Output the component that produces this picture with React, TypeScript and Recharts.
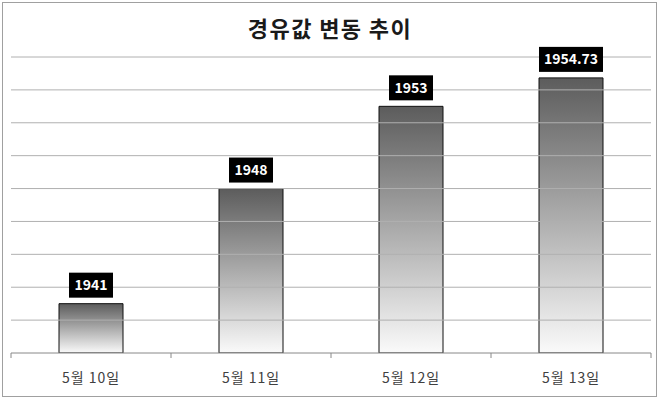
import React from 'react';
import { BarChart, Bar, XAxis, YAxis, ReferenceLine, LabelList } from 'recharts';

const categories = ['5월 10일', '5월 11일', '5월 12일', '5월 13일'];
const prices = [1941, 1948, 1953, 1954.73];
const yTicks = [1938, 1940, 1942, 1944, 1946, 1948, 1950, 1952, 1954, 1956];
const title = '경유값 변동 추이';

const data = categories.map((c, i) => ({ name: c, value: prices[i] }));

const FONT = '"Noto Sans CJK KR", "Noto Sans", sans-serif';
const BAND = 160;

const CategoryTick = (props: any) => {
  const { x, y, payload, index } = props;
  return (
    <g>
      <line x1={x - BAND / 2} y1={y} x2={x - BAND / 2} y2={y + 5} stroke="#888" strokeWidth={1} />
      {index === categories.length - 1 && (
        <line x1={x + BAND / 2} y1={y} x2={x + BAND / 2} y2={y + 5} stroke="#888" strokeWidth={1} />
      )}
      <text x={x} y={y + 30} textAnchor="middle" fill="#404040" fontSize={14} letterSpacing={1} fontFamily={FONT}>
        {payload.value}
      </text>
    </g>
  );
};

const ValueLabel = (props: any) => {
  const { x, y, width, value } = props;
  const s = String(value);
  let tw = 0;
  for (const ch of s) tw += ch === '.' ? 4 : 8;
  const w = tw + 12;
  const h = 25;
  const cx = x + width / 2;
  const top = y - 6 - h;
  return (
    <g>
      <rect x={cx - w / 2} y={top} width={w} height={h} fill="#000" />
      <text x={cx} y={top + h / 2 + 5} textAnchor="middle" fill="#fff" fontSize={14} fontWeight="bold" fontFamily={FONT}>
        {s}
      </text>
    </g>
  );
};

export default function App() {
  return (
    <div style={{ position: 'absolute', left: 0, top: 0, width: 660, height: 400, background: '#fff' }}>
      <div style={{ position: 'absolute', left: 2, top: 2, width: 653, height: 393, border: '1px solid #a0a0a0' }} />
      <div style={{ position: 'absolute', left: 0, top: 11, width: 660, textAlign: 'center', fontFamily: FONT, fontSize: 22, letterSpacing: 1.4, fontWeight: 'bold', color: '#1a1a1a' }}>
        {title}
      </div>
      <div style={{ position: 'absolute', left: 0, top: 0 }}>
        <BarChart width={660} height={400} data={data} margin={{ top: 57, right: 9, bottom: 0, left: 11 }}>
          <defs>
            <linearGradient id="barGrad" x1="0" y1="0" x2="0" y2="1">
              <stop offset="0%" stopColor="#5c5c5c" />
              <stop offset="100%" stopColor="#fafafa" />
            </linearGradient>
          </defs>
          <YAxis domain={[1938, 1956]} ticks={yTicks} width={0} tick={false} axisLine={false} tickLine={false} allowDataOverflow />
          {yTicks.slice(1).map((t) => (
            <ReferenceLine key={t} y={t} stroke="#b0b0b0" strokeWidth={1} />
          ))}
          <XAxis dataKey="name" height={47} axisLine={{ stroke: '#888', strokeWidth: 1 }} tickLine={false} tickSize={0} tickMargin={0} tick={<CategoryTick />} interval={0} />
          <Bar dataKey="value" barSize={64} fill="url(#barGrad)" stroke="#111" strokeWidth={1} isAnimationActive={false}>
            <LabelList dataKey="value" content={<ValueLabel />} />
          </Bar>
        </BarChart>
      </div>
    </div>
  );
}
